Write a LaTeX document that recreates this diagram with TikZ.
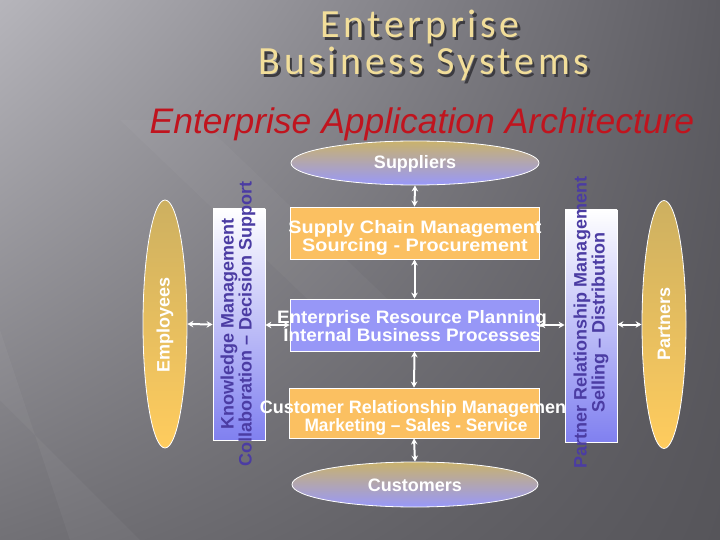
\documentclass[tikz,border=0pt]{standalone}
\usepackage{fontspec}
\setmainfont{Liberation Sans}
\newfontfamily\titlefont[LetterSpace=9]{Carlito}
\usetikzlibrary{shapes.geometric,arrows.meta,shadings}
\definecolor{bgTL}{HTML}{B6B5BB}
\definecolor{bgTR}{HTML}{5D5C62}
\definecolor{bgBL}{HTML}{727176}
\definecolor{bgBR}{HTML}{56555A}
\definecolor{orangebox}{HTML}{FBC061}
\definecolor{bluebox}{HTML}{9797F7}
\definecolor{ellTop}{HTML}{C9B26C}
\definecolor{ellBot}{HTML}{9898FA}
\definecolor{goldTop}{HTML}{CDB060}
\definecolor{goldBot}{HTML}{FFCC5E}
\definecolor{kmBot}{HTML}{8080F0}
\definecolor{kmtext}{HTML}{4B3CA3}
\definecolor{titleyellow}{HTML}{F2DE9A}
\definecolor{titleshadow}{HTML}{3C3B40}
\definecolor{titlered}{HTML}{C0141E}
\begin{document}
\begin{tikzpicture}[x=1pt,y=-1pt,
  box/.style={draw=white, line width=0.8pt, inner sep=0pt},
  ell/.style={ellipse, draw=white, line width=0.8pt, inner sep=0pt},
  btxt/.style={text=white, font=\fontsize{18}{16.5}\selectfont\bfseries, align=center, inner sep=0pt},
  vtxt/.style={text=kmtext, font=\fontsize{18}{16}\selectfont\bfseries, align=center, inner sep=0pt, rotate=90},
  etxt/.style={text=white, font=\fontsize{18}{18}\selectfont\bfseries, inner sep=0pt},
  ttl/.style={anchor=base, inner sep=0pt, font=\titlefont\fontsize{40}{40}\selectfont},
  arr/.style={white, line width=2pt, {Stealth[length=6pt,width=6.5pt]}-{Stealth[length=6pt,width=6.5pt]}}
]
\useasboundingbox (0,0) rectangle (720,540);
\shade[upper left=bgTL, upper right=bgTR, lower left=bgBL, lower right=bgBR] (0,0) rectangle (720,540);
\fill[white, opacity=0.04] (0,330) -- (0,400) -- (140,540) -- (70,540) -- cycle;
\fill[white, opacity=0.03] (120,120) -- (200,120) -- (420,330) -- (340,330) -- cycle;

% titles
\node[ttl, text=titleshadow] (t1s) at (422.5,41) {Enterprise};
\node[ttl, text=titleshadow] (t2s) at (426.5,78) {Business Systems};
\node[ttl, text=titleyellow] (t1) at (420,38) {Enterprise};
\node[ttl, text=titleyellow] (t2) at (424,75) {Business Systems};
\node[anchor=base, inner sep=0pt, font=\itshape\fontsize{35.5}{36}\selectfont, text=titlered] (sub) at (422,134) {Enterprise Application Architecture};

% left side
\node[ell, minimum width=44pt, minimum height=248pt, top color=goldTop, bottom color=goldBot] (emp) at (165,324) {};
\node[etxt, rotate=90] (empt) at (165,325) {Employees};
\node[box, minimum width=52pt, minimum height=231pt, top color=white, bottom color=kmBot] (km) at (239,324.5) {};
\node[vtxt] (kmt) at (238,324) {Knowledge Management\\Collaboration – Decision Support};

% center column
\node[ell, minimum width=248pt, minimum height=44pt, top color=ellTop, bottom color=ellBot] (sup) at (415,163) {};
\node[etxt] (supt) at (415,164) {Suppliers};
\node[box, minimum width=249pt, minimum height=52pt, fill=orangebox] (scm) at (414.5,233) {};
\node[btxt] (scmt) at (415,238) {\scalebox{1.1}[1]{Supply Chain Management}\\\scalebox{1.1}[1]{Sourcing - Procurement}};
\node[box, minimum width=249pt, minimum height=52pt, fill=bluebox] (erp) at (414.5,325) {};
\node[btxt] (erpt) at (412,326) {\scalebox{1.05}[1]{Enterprise Resource Planning}\\\scalebox{1.05}[1]{Internal Business Processes}};
\node[box, minimum width=250pt, minimum height=50pt, fill=orangebox] (crm) at (414,413) {};
\node[btxt] (crmt) at (416,418) {Customer Relationship Management\\\scalebox{0.96}[1]{Marketing – Sales - Service}};
\node[ell, minimum width=246pt, minimum height=45pt, top color=ellTop, bottom color=ellBot] (cus) at (415,484.5) {};
\node[etxt] (cust) at (415,485) {Customers};

% right side
\node[box, minimum width=52pt, minimum height=232pt, top color=white, bottom color=kmBot] (prm) at (591,326) {};
\node[vtxt] (prmt) at (591,322.5) {Partner Relationship Management\\Selling – Distribution};
\node[ell, minimum width=44pt, minimum height=248pt, top color=goldTop, bottom color=goldBot] (prt) at (664,324.5) {};
\node[etxt, rotate=90] (prtt) at (664,323.5) {Partners};

% connectors
\draw[arr] (sup.south) -- (scm.north);
\draw[arr] (scm.south) -- (erp.north);
\draw[arr] (erp.south) -- (crm.north);
\draw[arr] (crm.south) -- (cus.north);
\draw[arr] (emp.east) -- (km.west);
\draw[arr] (km.east |- erp.west) -- (erp.west);
\draw[arr] (erp.east) -- (erp.east -| prm.west);
\draw[arr] (prm.east |- prt.west) -- (prt.west);
\end{tikzpicture}
\end{document}
